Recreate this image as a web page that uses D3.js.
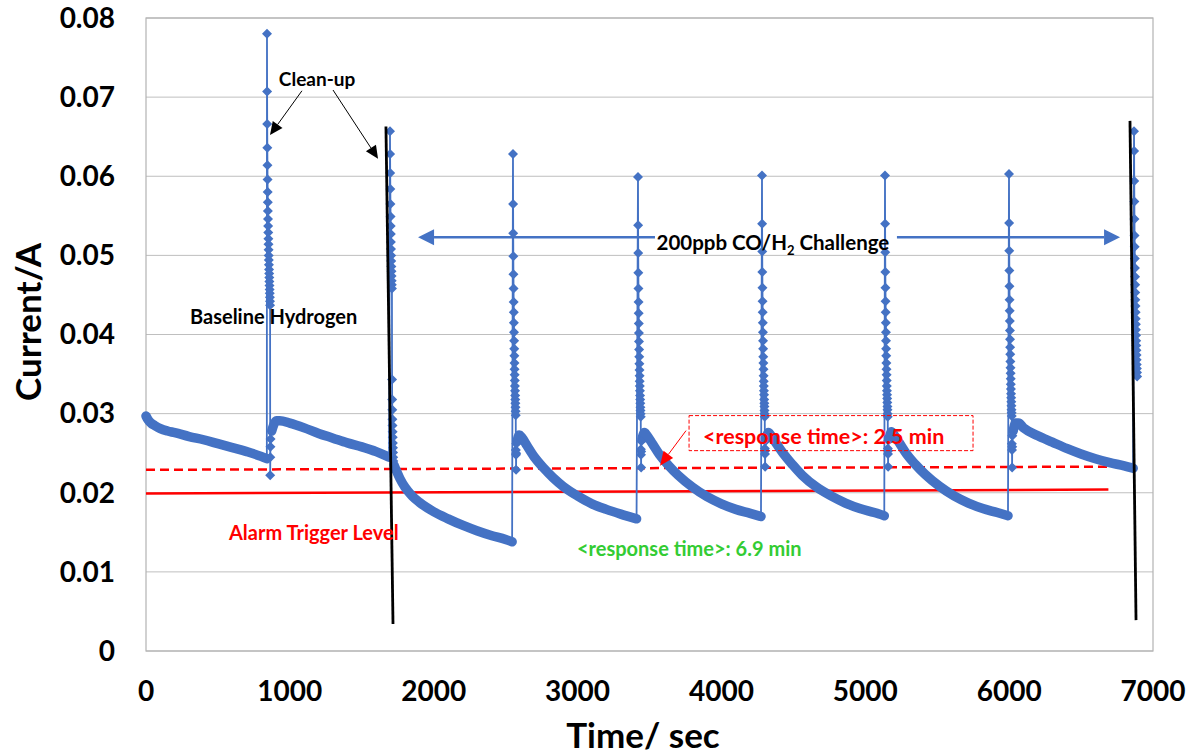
<!DOCTYPE html>
<html>
<head>
<meta charset="utf-8">
<script src="https://cdn.jsdelivr.net/npm/d3@7.9.0/dist/d3.min.js"></script>
<style>
  body { margin: 0; background: #fff; }
  svg text { font-family: Lato, 'Open Sans', sans-serif; font-weight: bold; }
</style>
</head>
<body>
<svg id="chart" width="1190" height="755"></svg>
<script>
// ---- data (time in s, current in A) ----
const xTicks = [0, 1000, 2000, 3000, 4000, 5000, 6000, 7000];
const yTicks = [0, 0.01, 0.02, 0.03, 0.04, 0.05, 0.06, 0.07, 0.08];

// slow / fast recovery segments between clean-up pulses
const decayA = [[0,0.0297],[15,0.0292],[35,0.0288],[60,0.0285],[100,0.0281],[150,0.0278],[200,0.0276],[300,0.0271],[400,0.0267],[500,0.0262],[600,0.0257],[700,0.0252],[800,0.0246],[840,0.0243]];
const decayB = [[874,0.0278],[888,0.0286],[905,0.0291],[930,0.0291],[1000,0.0288],[1100,0.0282],[1200,0.0275],[1300,0.0269],[1400,0.0263],[1500,0.0258],[1600,0.0252],[1690,0.0245]];
const decayC = [[1724,0.0235],[1745,0.0226],[1765,0.0218],[1800,0.0207],[1850,0.0196],[1900,0.0188],[2000,0.0176],[2100,0.0167],[2200,0.0159],[2300,0.0152],[2400,0.0146],[2500,0.0141],[2545,0.0138]];
const decayD = [[2580,0.0265],[2595,0.0273],[2612,0.0270],[2650,0.0259],[2700,0.0245],[2760,0.0232],[2830,0.0219],[2900,0.0208],[3000,0.0196],[3100,0.0186],[3200,0.0179],[3300,0.0173],[3410,0.0167]];
const decayE = [[3448,0.0268],[3465,0.0276],[3480,0.0273],[3520,0.0262],[3570,0.0248],[3630,0.0235],[3700,0.0222],[3800,0.0207],[3900,0.0195],[4000,0.0186],[4100,0.0179],[4200,0.0174],[4275,0.0170]];
const decayF = [[4310,0.0268],[4327,0.0276],[4342,0.0273],[4382,0.0262],[4432,0.0249],[4492,0.0236],[4562,0.0222],[4662,0.0207],[4762,0.0196],[4862,0.0187],[4962,0.0180],[5062,0.0175],[5132,0.0171]];
const decayG = [[5165,0.0268],[5182,0.0277],[5197,0.0274],[5237,0.0263],[5287,0.0249],[5347,0.0236],[5417,0.0223],[5517,0.0208],[5617,0.0196],[5717,0.0187],[5817,0.0180],[5917,0.0175],[5992,0.0171]];
const decayH = [[6028,0.0278],[6045,0.0288],[6065,0.0288],[6100,0.0282],[6200,0.0272],[6300,0.0264],[6400,0.0256],[6500,0.0249],[6600,0.0243],[6700,0.0238],[6800,0.0234],[6862,0.0231]];

// clean-up pulses: start time + sampled currents
const spikeTimes = [841, 1696, 2551, 3420, 4282, 5137, 5999, 6868];
const spikeStep = 0.8;
const spike1 = [0.0780,0.0707,0.0666,0.0636,0.0614,0.0596,0.0580,0.0567,0.0556,0.0546,0.0537,0.0529,0.0521,0.0514,0.0507,0.0500,0.0494,0.0488,0.0482,0.0477,0.0472,0.0467,0.0462,0.0457,0.0452,0.0447,0.0442,0.0437,0.0222,0.0245,0.0258,0.0268];
const spike2 = [0.0657,0.0628,0.0604,0.0584,0.0565,0.0549,0.0537,0.0527,0.0517,0.0508,0.0500,0.0493,0.0486,0.0480,0.0474,0.0468,0.0463,0.0458,0.0343,0.0318,0.0305,0.0293,0.0285,0.0277,0.0270,0.0263,0.0257,0.0251,0.0245,0.0240];
const spike3 = [0.0628,0.0565,0.0528,0.0499,0.0476,0.0458,0.0441,0.0428,0.0415,0.0403,0.0392,0.0382,0.0373,0.0364,0.0356,0.0349,0.0342,0.0335,0.0329,0.0323,0.0318,0.0313,0.0308,0.0303,0.0298,0.0254,0.0248,0.0229,0.0250,0.0262];
const spike4 = [0.0599,0.0538,0.0503,0.0478,0.0458,0.0441,0.0427,0.0414,0.0402,0.0391,0.0381,0.0372,0.0363,0.0355,0.0348,0.0341,0.0335,0.0329,0.0323,0.0318,0.0313,0.0308,0.0304,0.0300,0.0296,0.0255,0.0248,0.0232,0.0252,0.0265];
const spike5 = [0.0601,0.0540,0.0505,0.0479,0.0459,0.0442,0.0428,0.0415,0.0403,0.0392,0.0382,0.0372,0.0364,0.0356,0.0348,0.0341,0.0335,0.0329,0.0324,0.0318,0.0313,0.0309,0.0304,0.0300,0.0296,0.0256,0.0249,0.0233,0.0253,0.0265];
const spike6 = [0.0601,0.0540,0.0504,0.0479,0.0459,0.0442,0.0428,0.0415,0.0403,0.0392,0.0382,0.0373,0.0364,0.0356,0.0349,0.0342,0.0335,0.0329,0.0324,0.0319,0.0314,0.0309,0.0305,0.0300,0.0296,0.0256,0.0249,0.0233,0.0253,0.0266];
const spike7 = [0.0603,0.0541,0.0506,0.0481,0.0461,0.0444,0.0430,0.0417,0.0405,0.0394,0.0384,0.0375,0.0366,0.0358,0.0351,0.0344,0.0337,0.0331,0.0325,0.0320,0.0315,0.0310,0.0305,0.0301,0.0297,0.0262,0.0254,0.0232,0.0258,0.0272];
const spike8 = [0.0657,0.0632,0.0594,0.0568,0.0546,0.0525,0.0511,0.0496,0.0484,0.0473,0.0463,0.0453,0.0444,0.0436,0.0428,0.0420,0.0413,0.0406,0.0399,0.0392,0.0386,0.0380,0.0374,0.0368,0.0362,0.0357,0.0352,0.0347];

// reference levels and drawn lines
const alarmLevel = [[0,0.0199],[6690,0.0204]];
const responseLevel = [[0,0.0229],[6690,0.0233]];
const cleanupMarks = [[[1668,0.0663],[1717,0.0034]], [[6840,0.0670],[6882,0.0039]]];

const decays = [decayA, decayB, decayC, decayD, decayE, decayF, decayG, decayH];
const spikes = [spike1, spike2, spike3, spike4, spike5, spike6, spike7, spike8];

// ---- layout ----
const L = 146, R = 1153, T = 18, B = 651;
const blue = '#4472C4';

const x = d3.scaleLinear().domain([0, 7000]).range([L, R]);
const y = d3.scaleLinear().domain([0, 0.08]).range([B, T]);

const svg = d3.select('#chart');

// gridlines + frame
svg.append('g')
  .selectAll('line')
  .data(yTicks)
  .join('line')
    .attr('x1', L).attr('x2', R)
    .attr('y1', d => y(d)).attr('y2', d => y(d))
    .attr('stroke', '#bfbfbf').attr('stroke-width', 1);
svg.append('rect')
  .attr('x', L).attr('y', T).attr('width', R - L).attr('height', B - T)
  .attr('fill', 'none').attr('stroke', '#b3b3b3').attr('stroke-width', 1.2);

// tick labels
svg.append('g')
  .selectAll('text')
  .data(yTicks)
  .join('text')
    .attr('x', L - 31).attr('y', d => y(d)).attr('dy', '0.35em')
    .attr('text-anchor', 'end').attr('font-size', 28)
    .text(d => d === 0 ? '0' : d3.format('.2f')(d));
svg.append('g')
  .selectAll('text')
  .data(xTicks)
  .join('text')
    .attr('x', d => x(d)).attr('y', 701)
    .attr('text-anchor', 'middle').attr('font-size', 28)
    .text(d => d);

// axis titles
svg.append('text')
  .attr('x', 643).attr('y', 748)
  .attr('text-anchor', 'middle').attr('font-size', 35)
  .text('Time/ sec');
svg.append('text')
  .attr('transform', `translate(41,322) rotate(-90)`)
  .attr('text-anchor', 'middle').attr('font-size', 35)
  .text('Current/A');

// ---- series ----
const series = [];
decays.forEach((seg, i) => {
  seg.forEach(([t, v]) => series.push({ t, v }));
  spikes[i].forEach((v, j) => series.push({ t: spikeTimes[i] + j * spikeStep, v, spike: true }));
});

const line = d3.line().x(d => x(d.t)).y(d => y(d.v));

// red levels under the data
svg.append('path')
  .attr('d', d3.line().x(d => x(d[0])).y(d => y(d[1]))(alarmLevel))
  .attr('stroke', '#ff0000').attr('stroke-width', 2.5).attr('fill', 'none');
svg.append('path')
  .attr('d', d3.line().x(d => x(d[0])).y(d => y(d[1]))(responseLevel))
  .attr('stroke', '#ff0000').attr('stroke-width', 2.5).attr('fill', 'none')
  .attr('stroke-dasharray', '9,5');

svg.append('path')
  .attr('d', line(series))
  .attr('stroke', blue).attr('stroke-width', 1.8).attr('fill', 'none');

const band = d3.line().x(d => x(d[0])).y(d => y(d[1])).curve(d3.curveMonotoneX);
svg.append('g')
  .selectAll('path')
  .data(decays)
  .join('path')
    .attr('d', band)
    .attr('stroke', blue).attr('stroke-width', 9.5)
    .attr('stroke-linecap', 'round').attr('stroke-linejoin', 'round')
    .attr('fill', 'none');

const r = 5;
svg.append('g')
  .selectAll('path')
  .data(series.filter(d => d.spike))
  .join('path')
    .attr('transform', d => `translate(${x(d.t)},${y(d.v)})`)
    .attr('d', `M0,${-r}L${r},0L0,${r}L${-r},0Z`)
    .attr('fill', blue);

// black clean-up lines
svg.append('g')
  .selectAll('path')
  .data(cleanupMarks)
  .join('path')
    .attr('d', d3.line().x(d => x(d[0])).y(d => y(d[1])))
    .attr('stroke', '#000').attr('stroke-width', 2.8).attr('fill', 'none');

// ---- annotations ----
function arrow(t1, v1, t2, v2, color, width, len, half) {
  const x1 = x(t1), y1 = y(v1), x2 = x(t2), y2 = y(v2);
  const a = Math.atan2(y2 - y1, x2 - x1);
  const bx = x2 - len * Math.cos(a), by = y2 - len * Math.sin(a);
  svg.append('line')
    .attr('x1', x1).attr('y1', y1).attr('x2', bx).attr('y2', by)
    .attr('stroke', color).attr('stroke-width', width);
  const px = -Math.sin(a) * half, py = Math.cos(a) * half;
  svg.append('path')
    .attr('d', `M${x2},${y2}L${bx + px},${by + py}L${bx - px},${by - py}Z`)
    .attr('fill', color);
}

function label(txt, t, v, color, size, anchor) {
  return svg.append('text')
    .attr('x', x(t)).attr('y', y(v)).attr('dy', '0.35em')
    .attr('text-anchor', anchor).attr('font-size', size)
    .attr('fill', color).text(txt);
}

label('Clean-up', 1189, 0.0723, '#000', 19, 'middle');
arrow(1084, 0.0708, 862, 0.0652, '#000', 1, 13, 6);
arrow(1300, 0.0709, 1613, 0.0622, '#000', 1, 13, 6);

label('Baseline Hydrogen', 306, 0.0422, '#000', 20, 'start');
label('Alarm Trigger Level', 577, 0.0149, '#ff0000', 20, 'start');
label('<response time>: 6.9 min', 2996, 0.0129, '#33cc33', 20, 'start');

// response time box
svg.append('rect')
  .attr('x', x(3775)).attr('y', y(0.02975))
  .attr('width', x(5749) - x(3775)).attr('height', y(0.02532) - y(0.02975))
  .attr('fill', 'none').attr('stroke', '#ff0000').attr('stroke-width', 1)
  .attr('stroke-dasharray', '4,2');
label('<response time>: 2.5 min', 3872, 0.0271, '#ff0000', 21.5, 'start');
arrow(3754, 0.02785, 3573, 0.02342, '#ff0000', 1, 14, 6);

// challenge double arrow
arrow(3538, 0.0523, 1891, 0.0523, blue, 2.5, 16, 8);
arrow(5220, 0.0523, 6771, 0.0523, blue, 2.5, 16, 8);
const ch = svg.append('text')
  .attr('x', x(4358)).attr('y', y(0.0516)).attr('dy', '0.35em')
  .attr('text-anchor', 'middle').attr('font-size', 20.5);
ch.append('tspan').text('200ppb CO/H');
ch.append('tspan').attr('font-size', 13).attr('dy', 5).text('2');
ch.append('tspan').attr('dy', -5).text(' Challenge');
</script>
</body>
</html>
